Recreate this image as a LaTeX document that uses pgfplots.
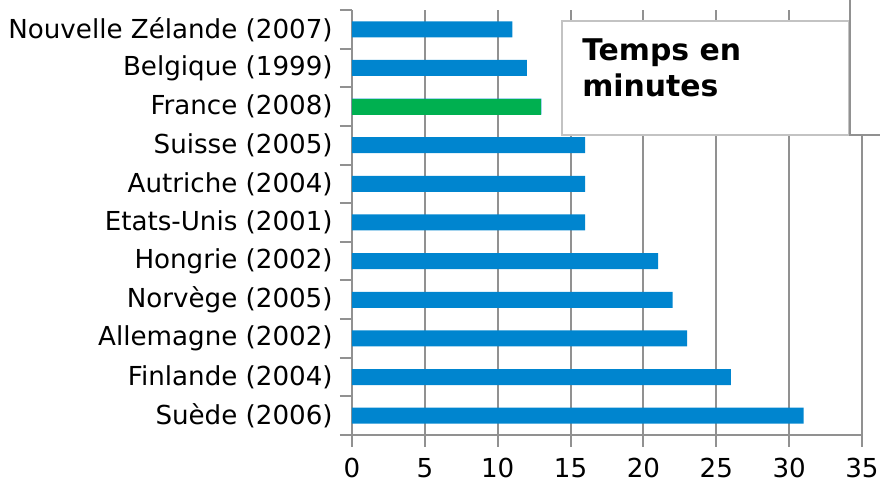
\documentclass[border=0pt]{standalone}
\usepackage{pgfplots}
\pgfplotsset{compat=1.18}
\usepackage{fontspec}
\setmainfont{DejaVu Sans}
\definecolor{barblue}{RGB}{0,133,207}
\definecolor{bargreen}{RGB}{0,176,80}
\definecolor{gridgray}{RGB}{145,145,145}
\definecolor{boxgray}{RGB}{195,195,195}
\begin{document}
\begin{tikzpicture}
\begin{axis}[
 at={(0,0)}, anchor=south west,
 scale only axis, width=382.5pt, height=318.75pt,
 xmin=0, xmax=35, ymin=-0.5, ymax=10.5,
 axis x line=bottom, axis y line=left,
 axis line style={-, draw=gridgray, line width=1.5pt},
 xtick={0,5,...,35}, xmajorgrids,
 grid style={draw=gridgray, line width=1.5pt},
 ytick={-0.5,0.5,...,10.5}, y tick label as interval,
 yticklabels={Suède (2006),Finlande (2004),Allemagne (2002),Norvège (2005),Hongrie (2002),Etats-Unis (2001),Autriche (2004),Suisse (2005),France (2008),Belgique (1999),Nouvelle Zélande (2007)},
 tick align=outside, major tick length=9pt,
 tick style={draw=gridgray, line width=1.5pt},
 ticklabel style={font=\fontsize{19.6}{23}\selectfont},
 xticklabel style={yshift=-5pt},
 yticklabel style={xshift=-2pt},
 /pgf/number format/assume math mode=true,
 xbar, bar width=12pt, bar shift=0pt,
 clip=false,
]
\addplot[fill=barblue, draw=none] coordinates {(31,0) (26,1) (23,2) (22,3) (21,4) (16,5) (16,6) (16,7) (13,8) (12,9) (11,10)};
\addplot[fill=bargreen, draw=none] coordinates {(13,8)};
\end{axis}
\draw[draw=boxgray, line width=1.4pt, fill=white] (157.5pt,225pt) rectangle (372.75pt,310.5pt);
\fill[white] (373.5pt,225pt) rectangle (400pt,330pt);
\draw[gridgray, line width=1.5pt] (373.5pt,330pt) -- (373.5pt,225pt) -- (400pt,225pt);
\node[anchor=base west, inner sep=0, font=\bfseries\fontsize{22.4}{27}\selectfont] at (172.5pt,280.5pt) {Temps en};
\node[anchor=base west, inner sep=0, font=\bfseries\fontsize{22.4}{27}\selectfont] at (172.5pt,253.5pt) {minutes};
\pgfresetboundingbox
\useasboundingbox (-264pt,-36.75pt) rectangle (396pt,326.25pt);
\end{tikzpicture}
\end{document}
